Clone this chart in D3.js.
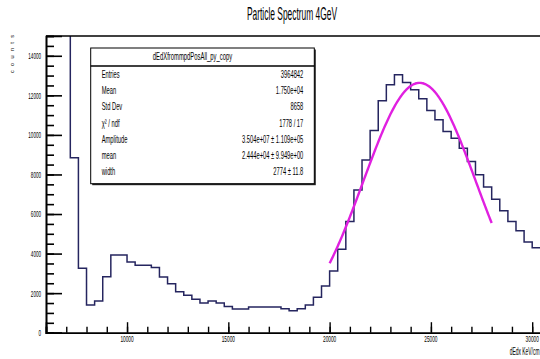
<!DOCTYPE html>
<html>
<head>
<meta charset="utf-8">
<script src="https://cdn.jsdelivr.net/npm/d3@7"></script>
<style>
  html, body { margin: 0; padding: 0; background: #fff; overflow: hidden; }
  svg { display: block; }
  text { font-family: "Liberation Sans", Arial, Helvetica, sans-serif; fill: #000; }
</style>
</head>
<body>
<svg id="chart" width="540" height="359"></svg>
<script>
// ---- histogram data: lower edge of each 400-wide bin and its content ----
const binLow = [
  6400, 6800, 7200, 7600, 8000, 8400, 8800, 9200, 9600,
  10000, 10400, 10800, 11200, 11600, 12000, 12400, 12800, 13200, 13600,
  14000, 14400, 14800, 15200, 15600, 16000, 16400, 16800, 17200, 17600,
  18000, 18400, 18800, 19200, 19600, 20000, 20400, 20800, 21200, 21600,
  22000, 22400, 22800, 23200, 23600, 24000, 24400, 24800, 25200, 25600,
  26000, 26400, 26800, 27200, 27600, 28000, 28400, 28800, 29200, 29600,
  30000
];
const counts = [
  1500000, 1500000, 8850, 3260, 1400, 1600, 2830, 3930, 3930,
  3570, 3410, 3410, 3290, 2820, 2480, 2075, 1890, 1690, 1500,
  1600, 1500, 1320, 1200, 1200, 1300, 1300, 1300, 1300, 1215,
  1115, 1215, 1400, 1790, 2360, 3120, 4220, 5620, 7220, 8730,
  10220, 11725, 12535, 13040, 12650, 12280, 11825, 11235, 10760, 10170,
  9835, 9330, 8655, 7980, 7360, 6750, 6170, 5620, 5150, 4590,
  4300
];
const binWidth = 400;

// ---- gaussian fit parameters ----
const fitAmplitude = 3.504e7;
const fitMean = 2.444e4;
const fitWidth = 2774;
const fitRange = [20000, 28000];

// ---- axes ----
const xDomain = [6000, 30400];
const yDomain = [0, 15000];
const xMajorTicks = [10000, 15000, 20000, 25000, 30000];
const yMajorTicks = [0, 2000, 4000, 6000, 8000, 10000, 12000, 14000];

// ---- text ----
const title = "Particle Spectrum 4GeV";
const xTitle = "dEdx KeV/cm";
const yTitle = "counts";
const statsName = "dEdXfrommpdPosAll_py_copy";
const statLabels = ["Entries", "Mean", "Std Dev", "\u03c7\u00b2 / ndf", "Amplitude", "mean", "width"];
const statValues = ["3964842", "1.750e+04", "8658", "1778 / 17",
                    "3.504e+07 \u00b1 1.109e+05", "2.444e+04 \u00b1 9.949e+00", "2774 \u00b1 11.8"];

// ---- layout ----
const frame = { left: 46, right: 540.3, top: 36, bottom: 332.7 };
const svg = d3.select("#chart");

const x = d3.scaleLinear().domain(xDomain).range([frame.left, frame.right]);
const y = d3.scaleLinear().domain(yDomain).range([frame.bottom, frame.top]);

// narrow text: draw glyphs inside a horizontally squeezed group
function narrowText(parent, px, py, str, size, squeeze, anchor) {
  const g = parent.append("g").attr("transform", `translate(${px},${py}) scale(${squeeze},1)`);
  return g.append("text")
    .attr("x", 0).attr("y", 0)
    .attr("font-size", size)
    .attr("text-anchor", anchor || "start")
    .text(str);
}

svg.append("defs").append("clipPath").attr("id", "frameClip")
  .append("rect")
  .attr("x", frame.left).attr("y", frame.top)
  .attr("width", frame.right - frame.left).attr("height", frame.bottom - frame.top);

// histogram outline
const histPts = [];
binLow.forEach((lo, i) => {
  histPts.push([lo, counts[i]]);
  histPts.push([lo + binWidth, counts[i]]);
});
const line = d3.line().x(d => x(d[0])).y(d => y(d[1]));
svg.append("path")
  .attr("clip-path", "url(#frameClip)")
  .attr("d", line(histPts))
  .attr("fill", "none")
  .attr("stroke", "#25255f")
  .attr("stroke-width", 1.5);

// fitted gaussian
const gauss = v => fitAmplitude / fitWidth * Math.exp(-0.5 * Math.pow((v - fitMean) / fitWidth, 2));
const fitPts = d3.range(0, 201).map(k => {
  const v = fitRange[0] + (fitRange[1] - fitRange[0]) * k / 200;
  return [v, gauss(v)];
});
svg.append("path")
  .attr("clip-path", "url(#frameClip)")
  .attr("d", line(fitPts))
  .attr("fill", "none")
  .attr("stroke", "#e020e0")
  .attr("stroke-width", 2.4);

// frame top edge
svg.append("line")
  .attr("x1", frame.left).attr("x2", frame.right + 2)
  .attr("y1", frame.top).attr("y2", frame.top)
  .attr("stroke", "#000").attr("stroke-width", 1.6);

// y axis: ticks drawn inward
const yMinor = svg.append("g").attr("transform", `translate(${frame.left},0)`)
  .call(d3.axisLeft(y).tickValues(d3.range(0, 15001, 500)).tickSize(-8).tickFormat(""));
const yMajor = svg.append("g").attr("transform", `translate(${frame.left},0)`)
  .call(d3.axisLeft(y).tickValues(yMajorTicks).tickSize(-16).tickFormat(""));
[yMinor, yMajor].forEach(g => {
  g.select(".domain").attr("stroke", "#000").attr("stroke-width", 1.6);
  g.selectAll(".tick line").attr("stroke", "#000").attr("stroke-width", 1.6);
});
yMajorTicks.forEach(v => {
  narrowText(svg, frame.left - 5, y(v) + 3.4, String(v), 9.5, 0.48, "end");
});

// x axis: ticks drawn inward
const xMinor = svg.append("g").attr("transform", `translate(0,${frame.bottom})`)
  .call(d3.axisBottom(x).tickValues(d3.range(6000, 30401, 1000)).tickSize(-6).tickFormat(""));
const xMajor = svg.append("g").attr("transform", `translate(0,${frame.bottom})`)
  .call(d3.axisBottom(x).tickValues(xMajorTicks).tickSize(-10.5).tickFormat(""));
[xMinor, xMajor].forEach(g => {
  g.select(".domain").attr("stroke", "#000").attr("stroke-width", 1.6);
  g.selectAll(".tick line").attr("stroke", "#000").attr("stroke-width", 1.4);
});
xMajorTicks.forEach(v => {
  narrowText(svg, x(v), frame.bottom + 9.3, String(v), 9.5, 0.5, "middle");
});

// axis titles
narrowText(svg, 539.5, 355, xTitle, 10.5, 0.47, "end");
svg.append("text")
  .attr("transform", "translate(13.5,35) rotate(-90)")
  .attr("text-anchor", "end")
  .attr("font-size", 5.5)
  .attr("fill", "#333")
  .attr("textLength", 38)
  .attr("lengthAdjust", "spacing")
  .text(yTitle);

// title
narrowText(svg, 292, 20, title, 17.5, 0.48, "middle");

// statistics box
const box = { x: 90.7, y: 48, w: 223.6, h: 135.7, head: 18 };
svg.append("rect")
  .attr("x", box.x + 1.5).attr("y", box.y + 1.5)
  .attr("width", box.w).attr("height", box.h)
  .attr("fill", "#222");
svg.append("rect")
  .attr("x", box.x).attr("y", box.y)
  .attr("width", box.w).attr("height", box.h)
  .attr("fill", "#fff").attr("stroke", "#000").attr("stroke-width", 1);
svg.append("line")
  .attr("x1", box.x).attr("x2", box.x + box.w)
  .attr("y1", box.y + box.head).attr("y2", box.y + box.head)
  .attr("stroke", "#000").attr("stroke-width", 1.6);
narrowText(svg, box.x + box.w / 2 - 10, box.y + 11.5, statsName, 10.5, 0.56, "middle");
statLabels.forEach((lab, i) => {
  const by = 78 + i * 16.2;
  narrowText(svg, box.x + 11, by, lab, 10.5, 0.55, "start");
  narrowText(svg, box.x + box.w - 11, by, statValues[i], 10.5, 0.55, "end");
});
</script>
</body>
</html>
